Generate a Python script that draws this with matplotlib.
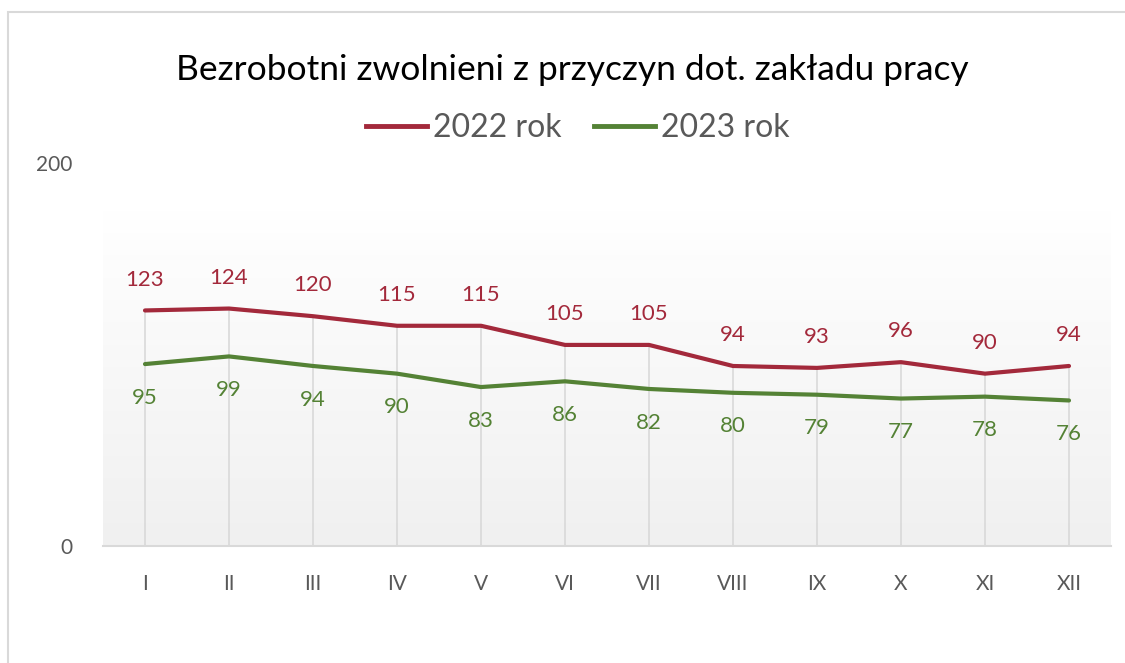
import numpy as np
import matplotlib
matplotlib.use("Agg")
import matplotlib.pyplot as plt
from matplotlib.lines import Line2D
from matplotlib.patches import Rectangle

# -----------------------
# DATA
# -----------------------
months = ["I", "II", "III", "IV", "V", "VI", "VII", "VIII", "IX", "X", "XI", "XII"]
rok_2022 = [123, 124, 120, 115, 115, 105, 105, 94, 93, 96, 90, 94]
rok_2023 = [95, 99, 94, 90, 83, 86, 82, 80, 79, 77, 78, 76]
series_names = ["2022 rok", "2023 rok"]

title = "Bezrobotni zwolnieni z przyczyn dot. zakładu pracy"

# -----------------------
# STYLE
# -----------------------
plt.rcParams["font.family"] = ["Lato", "DejaVu Sans"]
red = "#a3293b"
green = "#548235"
grey_txt = "#595959"
grey_line = "#d9d9d9"

fig = plt.figure(figsize=(11.25, 6.63), dpi=100)
ax = fig.add_axes([103 / 1125, 1 - 546 / 663, (1111 - 103) / 1125, (546 - 163) / 663])

# outer frame of the chart
fig.patches.append(Rectangle((8 / 1125, -0.1), 1.2, 1 - 12 / 663 + 0.1,
                             transform=fig.transFigure, fill=False,
                             edgecolor="#d9d9d9", linewidth=1.5))

x = np.arange(len(months))

# gradient plot area (white at top, light grey at bottom)
grad = np.linspace(0, 1, 256).reshape(-1, 1)
ax.imshow(grad, extent=(-0.5, 11.5, 0, 175), aspect="auto", origin="upper",
          cmap=matplotlib.colors.LinearSegmentedColormap.from_list("g", ["#ffffff", "#f0f0f0"]),
          zorder=0)

# drop lines
top = np.maximum(rok_2022, rok_2023)
ax.vlines(x, 0, top, color=grey_line, linewidth=1.2, zorder=1)

ax.plot(x, rok_2022, color=red, linewidth=3, solid_capstyle="round", zorder=3)
ax.plot(x, rok_2023, color=green, linewidth=3, solid_capstyle="round", zorder=3)

for xi, v in zip(x, rok_2022):
    ax.annotate(str(v), (xi, v), xytext=(0, 15), textcoords="offset points",
                ha="center", va="bottom", color=red, fontsize=16)
for xi, v in zip(x, rok_2023):
    ax.annotate(str(v), (xi, v), xytext=(0, -17), textcoords="offset points",
                ha="center", va="top", color=green, fontsize=16)

ax.set_xlim(-0.5, 11.5)
ax.set_ylim(0, 200)
ax.set_yticks([0, 200])
ax.set_xticks(x)
ax.set_xticklabels(months)
ax.tick_params(axis="both", length=0, labelsize=15, colors=grey_txt)
ax.tick_params(axis="x", pad=20)
ax.tick_params(axis="y", pad=22)
for s in ["top", "right", "left"]:
    ax.spines[s].set_visible(False)
ax.spines["bottom"].set_color(grey_line)
ax.spines["bottom"].set_linewidth(1.5)
ax.spines["bottom"].set_zorder(2)

fig.text(572 / 1125, 1 - 70 / 663, title, ha="center", va="center",
         fontsize=25.5, color="black")

handles = [Line2D([], [], color=red, linewidth=3.5),
           Line2D([], [], color=green, linewidth=3.5)]
fig.legend(handles, series_names, loc="center", bbox_to_anchor=(578 / 1125, 1 - 128 / 663),
           ncol=2, frameon=False, fontsize=23, labelcolor=grey_txt,
           handlelength=1.9, handletextpad=0.2, columnspacing=1.0)

fig.savefig("out.png", dpi=100)
